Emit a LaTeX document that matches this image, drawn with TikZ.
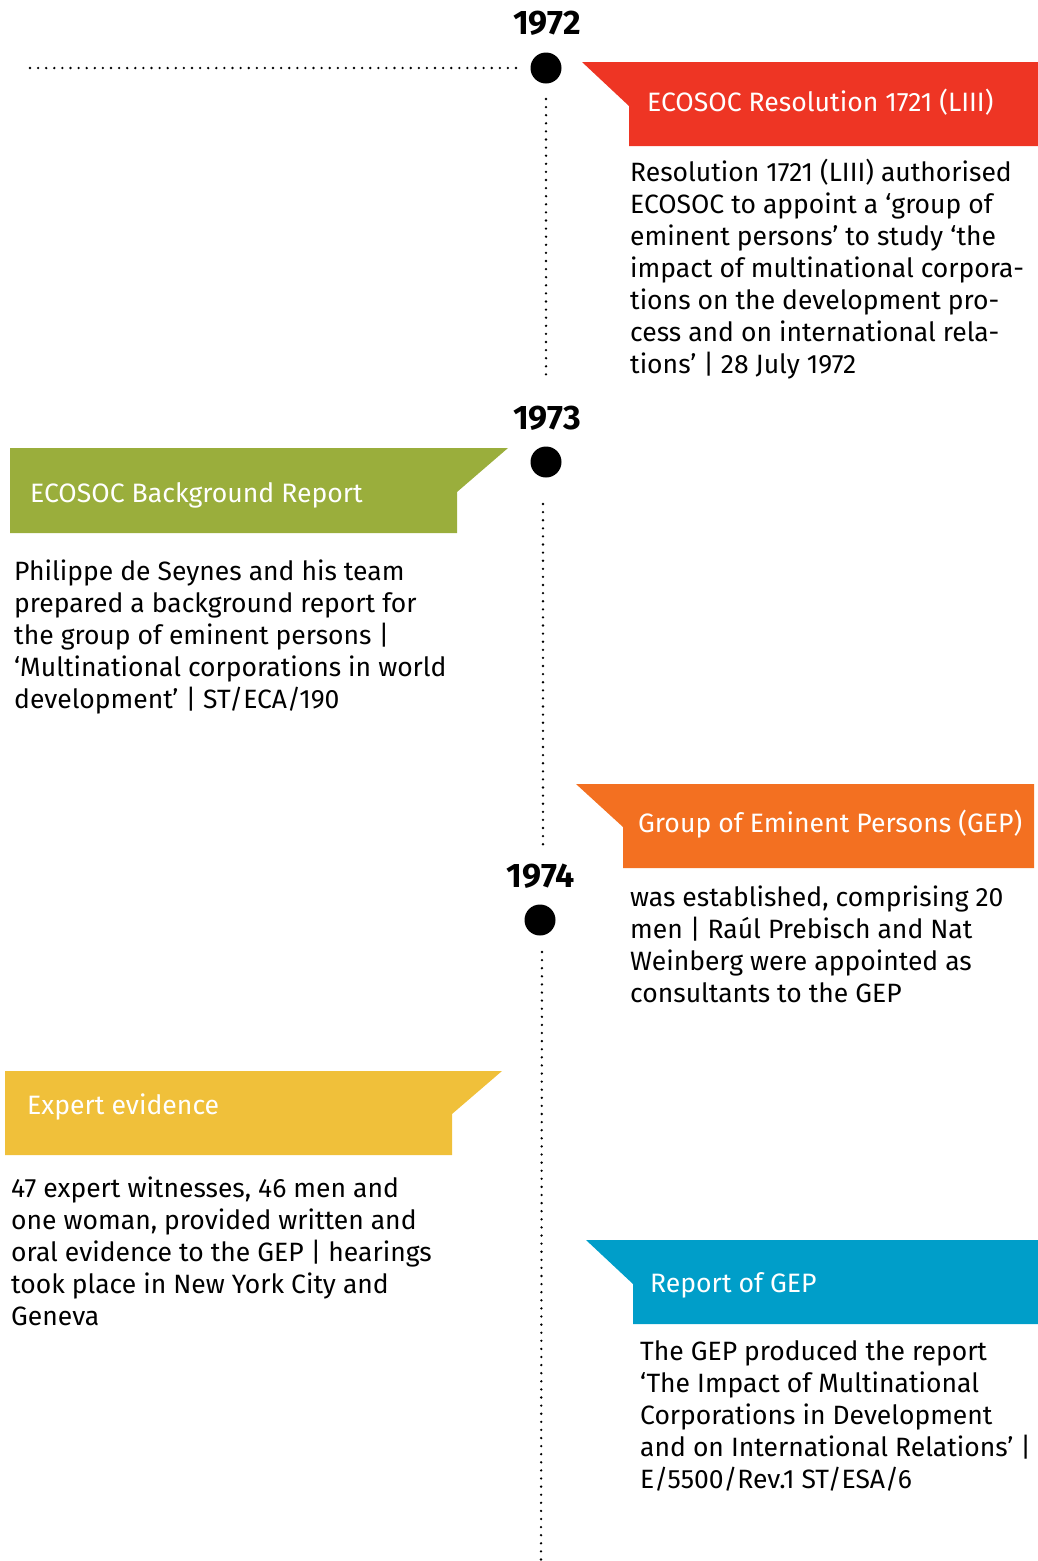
\documentclass[tikz,border=0pt]{standalone}
\usepackage{fontspec}
\setmainfont{Fira Sans}
\begin{document}
\begin{tikzpicture}[x=1pt,y=-1pt,
  yearlbl/.style={font=\bfseries\fontsize{34}{38}\selectfont, anchor=base, inner sep=0},
  tdot/.style={circle, fill=black, minimum size=31pt, inner sep=0},
  dotline/.style={line width=2.6pt, line cap=round, dash pattern=on 0pt off 8.1pt},
  headtxt/.style={font=\fontsize{26.6}{30}\selectfont, text=white, anchor=base west, inner sep=0},
  bodytxt/.style={font=\fontsize{26.5}{32}\selectfont, align=left, anchor=north west, inner sep=0}
]
\definecolor{cred}{HTML}{EE3524}
\definecolor{cgreen}{HTML}{9AAE3C}
\definecolor{corange}{HTML}{F37021}
\definecolor{cyellow}{HTML}{F0C03A}
\definecolor{cblue}{HTML}{009EC9}
\useasboundingbox (0,0) rectangle (1038,1561);

% years and dots
\node[yearlbl] (y1972) at (547,34) {1972};
\node[tdot] (d1972) at (546,68) {};
\node[yearlbl] (y1973) at (547,429) {1973};
\node[tdot] (d1973) at (546,462) {};
\node[yearlbl] (y1974) at (541,887) {1974};
\node[tdot] (d1974) at (540,920) {};

% dotted lines
\coordinate (hl) at (30,68);
\coordinate (v1a) at (546,99);
\coordinate (v1b) at (546,375);
\coordinate (v2a) at (543,504);
\coordinate (v2b) at (543,845);
\coordinate (v3a) at (542,952);
\coordinate (v3b) at (541,1561);
\draw[dotline] (hl) -- ([xshift=-14pt]d1972.west);
\draw[dotline] (v1a) -- (v1b);
\draw[dotline] (v2a) -- (v2b);
\draw[dotline] (v3a) -- (v3b);

% banners
\fill[cred] (582,62) -- (1038,62) -- (1038,146) -- (629,146) -- (629,106) -- cycle;
\fill[cgreen] (508,448) -- (10,448) -- (10,533) -- (457,533) -- (457,492) -- cycle;
\fill[corange] (576,784) -- (1034,784) -- (1034,868) -- (623,868) -- (623,827) -- cycle;
\fill[cyellow] (502,1071) -- (5,1071) -- (5,1155) -- (452,1155) -- (452,1114) -- cycle;
\fill[cblue] (586,1240) -- (1038,1240) -- (1038,1324) -- (633,1324) -- (633,1284) -- cycle;

\node[headtxt] (h1) at (647,111) {ECOSOC Resolution 1721 (LIII)};
\node[headtxt] (h2) at (30,502) {ECOSOC Background Report};
\node[headtxt] (h3) at (638,832) {Group of Eminent Persons (GEP)};
\node[headtxt] (h4) at (27,1114) {Expert evidence};
\node[headtxt] (h5) at (650,1292) {Report of GEP};

% body texts
\node[bodytxt] (b1) at (630,158.6) {\strut Resolution 1721 (LIII) authorised\\ECOSOC to appoint a ‘group of\\eminent persons’ to study ‘the\\impact of multinational corpora-\\tions on the development pro-\\cess and on international rela-\\tions’ | 28 July 1972};
\node[bodytxt] (b2) at (14,557.6) {\strut Philippe de Seynes and his team\\prepared a background report for\\the group of eminent persons |\\‘Multinational corporations in world\\development’ | ST/ECA/190};
\node[bodytxt] (b3) at (630,883.6) {\strut was established, comprising 20\\men | Raúl Prebisch and Nat\\Weinberg were appointed as\\consultants to the GEP};
\node[bodytxt] (b4) at (11,1174.6) {\strut 47 expert witnesses, 46 men and\\one woman, provided written and\\oral evidence to the GEP | hearings\\took place in New York City and\\Geneva};
\node[bodytxt] (b5) at (640,1337.6) {\strut The GEP produced the report\\‘The Impact of Multinational\\Corporations in Development\\and on International Relations’ |\\E/5500/Rev.1 ST/ESA/6};
\end{tikzpicture}
\end{document}
